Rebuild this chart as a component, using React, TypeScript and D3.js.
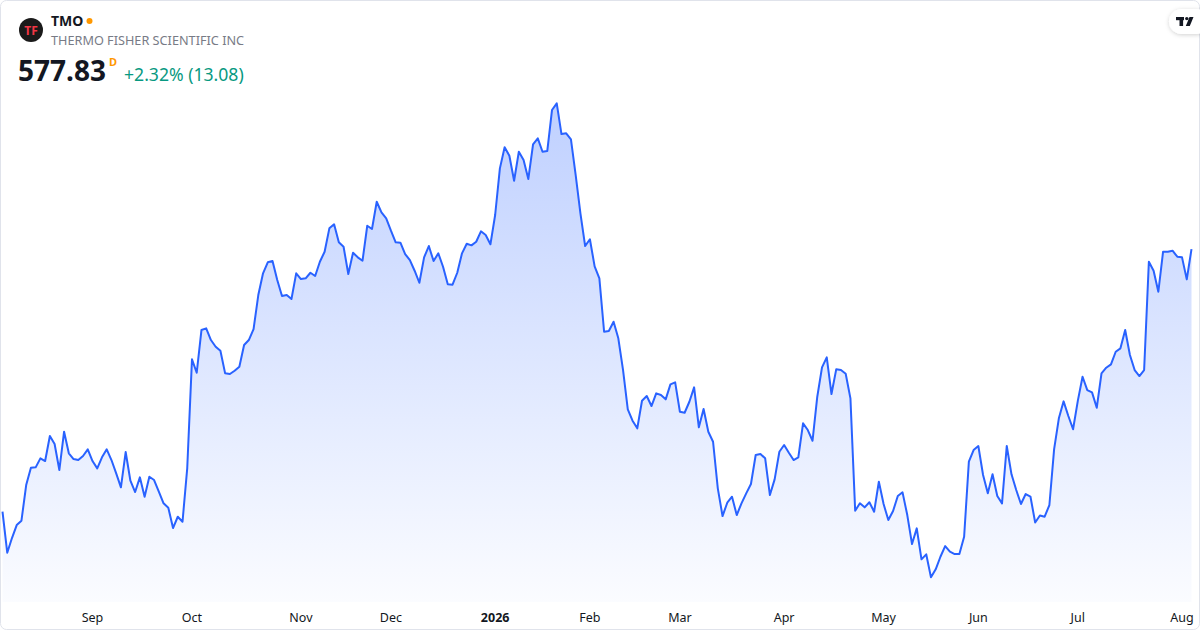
import * as d3 from "d3";

// ---------------------------------------------------------------------------
// Data: daily closes per month (TMO, Aug 2025 – Aug 2026)
// ---------------------------------------------------------------------------

const MONTH_LABELS = ["", "Sep", "Oct", "Nov", "Dec", "2026", "Feb", "Mar", "Apr", "May", "Jun", "Jul", "Aug"];

const aug25 = [464.6, 446.93, 453.26, 458.86, 460.72, 476.11, 483.56, 483.73, 487.61, 486.45, 497.23, 493.78, 482.57, 499.08, 489.77, 487.31, 486.88, 488.61, 491.49];
const sep25 = [486.45, 483.3, 488.05, 491.49, 486.88, 481.15, 475.11, 490.33, 477.96, 473.09, 479.42, 471.06, 479.68, 478.26, 473.22, 468.22, 466.32, 457.57, 462.44, 460.29, 483.43];
const oct25 = [530.29, 524.51, 542.92, 543.65, 538.61, 535.72, 533.99, 524.25, 523.95, 525.37, 527.1, 536.45, 538.61, 543.35, 558.0, 567.36, 572.1, 572.66, 564.47, 557.57, 558.0, 556.28, 567.36];
const nov25 = [564.9, 565.2, 567.61, 566.19, 572.36, 576.67, 586.75, 588.48, 580.72, 578.82, 567.05, 576.24, 574.25, 572.79, 587.87, 586.45, 598.22, 593.65, 591.06];
const dec25 = [585.72, 580.72, 580.55, 575.67, 573.09, 568.48, 563.3, 574.25, 579.12, 572.66, 575.98, 570.2, 562.61, 562.44, 567.61, 575.98, 580.11, 579.42, 580.98, 585.46, 583.86, 579.86];
const jan26 = [592.49, 612.61, 621.67, 618.05, 607.27, 619.77, 616.19, 608.0, 622.96, 625.55, 619.77, 620.07, 637.74, 640.63, 627.4, 627.7, 625.11, 609.73, 593.22, 579.12];
const feb26 = [582.05, 570.37, 565.2, 542.18, 542.49, 546.49, 539.34, 525.67, 508.74, 503.82, 500.55, 512.44, 514.47, 510.16, 515.63, 514.9, 513.05, 519.51, 520.37];
const mar26 = [507.7, 507.27, 512.01, 518.22, 500.98, 508.86, 499.08, 494.77, 474.68, 462.74, 468.48, 471.06, 463.17, 468.22, 472.53, 476.54, 489.04, 489.47, 487.61, 471.8, 478.56, 490.46];
const apr26 = [493.35, 490.03, 486.88, 488.05, 502.7, 499.81, 495.2, 514.17, 526.84, 531.15, 515.33, 525.98, 525.67, 524.08, 513.48, 465.03, 468.22, 466.49, 468.69, 464.6, 477.53];
const may26 = [467.92, 461.02, 464.9, 471.36, 472.96, 463.17, 450.67, 457.44, 444.08, 446.24, 436.32, 439.77, 445.2, 449.81, 447.36, 446.36, 446.36, 453.82, 486.15, 491.19];
const jun26 = [492.92, 480.42, 472.53, 480.72, 471.36, 468.22, 492.92, 480.72, 473.95, 467.92, 472.23, 471.15, 459.94, 462.96, 462.44, 467.49, 491.62, 504.86, 512.18, 505.85, 500.16];
const jul26 = [512.4, 522.79, 517.05, 516.06, 509.42, 524.25, 526.67, 528.13, 533.56, 535.03, 542.92, 532.14, 525.67, 523.09, 525.67, 572.36, 568.48, 559.42, 576.67, 576.67, 577.1, 574.51];
const aug26 = [574.25, 564.75, 577.83];

const MONTHS = [aug25, sep25, oct25, nov25, dec25, jan26, feb26, mar26, apr26, may26, jun26, jul26, aug26];

// ---------------------------------------------------------------------------
// Palette / layout
// ---------------------------------------------------------------------------

const LINE = "#2962FF";
const TEXT = "#131722";
const MUTED = "#787b86";
const GREEN = "#089981";
const ORANGE = "#ff9800";
const BORDER = "#e0e3eb";
const FONT = "'Noto Sans', 'Open Sans', sans-serif";

const W = 1200;
const H = 630;
const PANE_BOTTOM = 602;

export default function App() {
  const closes = MONTHS.flat();

  // first index of each month → tick position
  const starts: number[] = [];
  MONTHS.reduce((acc, m) => {
    starts.push(acc);
    return acc + m.length;
  }, 0);

  const x = d3.scaleLinear().domain([0, closes.length - 1]).range([2.5, 1191.5]);
  const y = d3.scaleLinear().domain([430, 650]).range([592, 81.6]);

  const line = d3
    .line<number>()
    .x((_, i) => x(i))
    .y((d) => y(d));

  const area = d3
    .area<number>()
    .x((_, i) => x(i))
    .y0(PANE_BOTTOM)
    .y1((d) => y(d));

  return (
    <>
      <style>{"body{margin:0}"}</style>
      <svg width={W} height={H} style={{ display: "block", fontFamily: FONT }}>
        <defs>
          <linearGradient id="fill" gradientUnits="userSpaceOnUse" x1={0} y1={100} x2={0} y2={PANE_BOTTOM}>
            <stop offset="0%" stopColor={LINE} stopOpacity={0.3} />
            <stop offset="100%" stopColor={LINE} stopOpacity={0.02} />
          </linearGradient>
          <filter id="shadow" x="-50%" y="-50%" width="200%" height="200%">
            <feDropShadow dx={0} dy={1} stdDeviation={2} floodColor="#000" floodOpacity={0.18} />
          </filter>
        </defs>

        <rect x={0.5} y={0.5} width={W - 1} height={H - 1} rx={6} fill="#fff" stroke={BORDER} />

        {/* area + line */}
        <path d={area(closes) ?? ""} fill="url(#fill)" />
        <path d={line(closes) ?? ""} fill="none" stroke={LINE} strokeWidth={2} strokeLinejoin="round" />

        {/* month labels */}
        {MONTH_LABELS.map((lab, i) =>
          lab ? (
            <text
              key={lab}
              x={x(starts[i])}
              y={622}
              textAnchor="middle"
              fontSize={12.5}
              fontWeight={lab === "2026" ? 700 : 400}
              fill={TEXT}
            >
              {lab}
            </text>
          ) : null,
        )}

        {/* header */}
        <circle cx={31} cy={30} r={12} fill="#1a1a1a" />
        <text x={31} y={34.5} textAnchor="middle" fontSize={12} fontWeight={700} fill="#f23645">
          TF
        </text>
        <text x={51} y={26} fontSize={14} fontWeight={700} fill={TEXT}>
          TMO
        </text>
        <circle cx={89.5} cy={21} r={3} fill={ORANGE} />
        <text x={51} y={45} fontSize={12.7} fill={MUTED}>
          THERMO FISHER SCIENTIFIC INC
        </text>
        <text x={18} y={81} fontSize={28} fontWeight={700} fill={TEXT}>
          {closes[closes.length - 1].toFixed(2)}
        </text>
        <text x={109} y={66} fontSize={11} fontWeight={700} fill={ORANGE}>
          D
        </text>
        <text x={124} y={81} fontSize={17.6} fill={GREEN}>
          +2.32% (13.08)
        </text>

        {/* TradingView badge */}
        <rect x={1169} y={9} width={40} height={25} rx={12.5} fill="#fff" filter="url(#shadow)" />
        <g fill="#131722">
          <rect x={1176} y={17} width={8} height={3.2} />
          <rect x={1179.5} y={17} width={3.6} height={9} />
          <circle cx={1186.8} cy={18.6} r={1.7} />
          <path d="M1189.5 17 L1193.5 17 L1189.8 26 L1185.8 26 Z" />
        </g>
      </svg>
    </>
  );
}
